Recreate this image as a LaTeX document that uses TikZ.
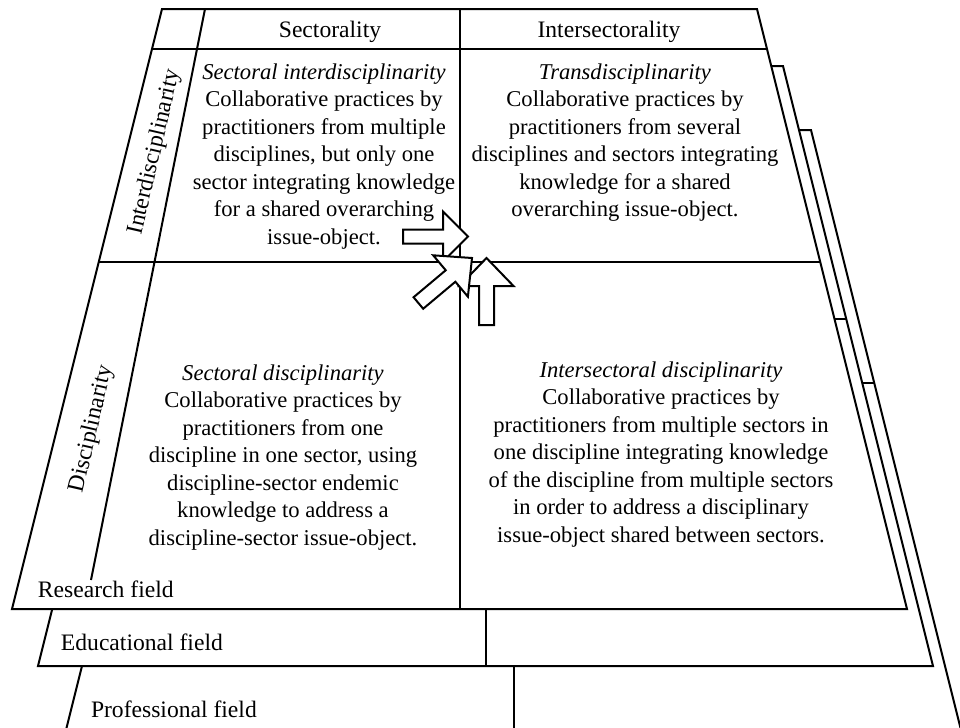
\documentclass[tikz,border=0pt]{standalone}
\usepackage{fontspec}
\setmainfont{Liberation Serif}
\begin{document}
\begin{tikzpicture}[x=0.5pt,y=-0.5pt,line width=1pt,
  layer/.style={draw,fill=white},
  cell/.style={align=center,inner sep=0pt,font=\fontsize{11.3}{13.75}\selectfont},
  head/.style={inner sep=0pt,font=\fontsize{11.8}{14}\selectfont},
  blockarrow/.style={draw,fill=white,line join=miter}]
\clip (0,0) rectangle (960,728);
% fields, back to front
\foreach \dx/\dy in {54/121,26/57,0/0}{
  \begin{scope}[shift={(\dx,\dy)}]
  \draw[layer] (162,9) -- (757,9) -- (907,609) -- (12,609) -- cycle;
  \draw (98.75,262) -- (820.25,262);
  \draw (459.5,9) -- (459.5,609);
  \end{scope}
}
% research field grid
\draw (152,49) -- (767,49);
\draw (205,9) -- (91,580);
\node[head, anchor=base] (sect) at (330,38) {Sectorality};
\node[head, anchor=base] (intersect) at (609,38) {Intersectorality};
\node[head, rotate=77] (interdisc) at (155,152) {Interdisciplinarity};
\node[head, rotate=77] (disc) at (92,429) {Disciplinarity};
\node[head, anchor=base west] (research) at (37,597) {Research field};
\node[head, anchor=base west] (educ) at (60,650) {Educational field};
\node[head, anchor=base west] (prof) at (90,717) {Professional field};
% cells
\node[cell, anchor=north] (secinter) at (324,62.5) {\textit{Sectoral interdisciplinarity}\\
  Collaborative practices by\\practitioners from multiple\\disciplines, but only one\\
  sector integrating knowledge\\for a shared overarching\\issue-object.};
\node[cell, anchor=north] (trans) at (625,62.5) {\textit{Transdisciplinarity}\\
  Collaborative practices by\\practitioners from several\\disciplines and sectors integrating\\
  knowledge for a shared\\overarching issue-object.};
\node[cell, anchor=north] (secdisc) at (283,363.5) {\textit{Sectoral disciplinarity}\\
  Collaborative practices by\\practitioners from one\\discipline in one sector, using\\
  discipline-sector endemic\\knowledge to address a\\discipline-sector issue-object.};
\node[cell, anchor=north] (interdisc2) at (661,360.5) {\textit{Intersectoral disciplinarity}\\
  Collaborative practices by\\practitioners from multiple sectors in\\one discipline integrating knowledge\\
  of the discipline from multiple sectors\\in order to address a disciplinary\\issue-object shared between sectors.};
% arrows
\draw[blockarrow, shift={(468,236.5)}] (0,0) -- (-25,-25) -- (-25,-7) -- (-65,-7) -- (-65,7) -- (-25,7) -- (-25,25) -- cycle;
\draw[blockarrow, shift={(486.5,258)}, rotate=90] (0,0) -- (-28,-27) -- (-28,-7.5) -- (-67,-7.5) -- (-67,7.5) -- (-28,7.5) -- (-28,27) -- cycle;
\draw[blockarrow, shift={(472,258)}, rotate=40] (0,0) -- (-28,-27) -- (-28,-7.5) -- (-70,-7.5) -- (-70,7.5) -- (-28,7.5) -- (-28,27) -- cycle;
\end{tikzpicture}
\end{document}
